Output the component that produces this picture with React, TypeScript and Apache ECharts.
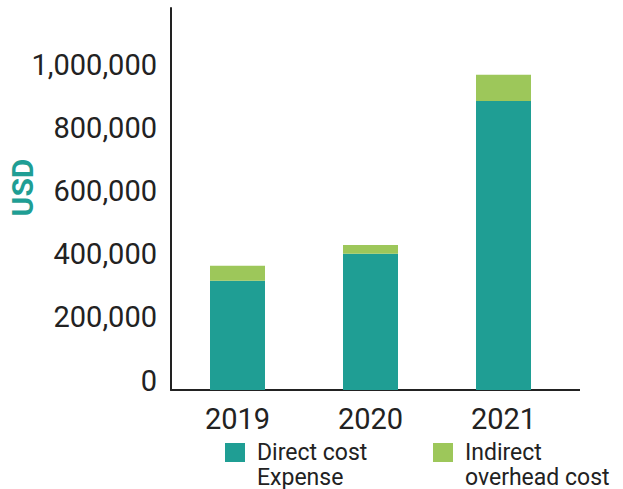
import React, { useEffect, useRef } from "react";
import * as echarts from "echarts";

const categories = ["2019", "2020", "2021"];
const directCost = [347000, 432000, 917000];
const indirectCost = [47000, 28000, 83000];
const seriesNames = ["Direct cost\nExpense", "Indirect\noverhead cost"];
const yAxisTitle = "USD";

const TEAL = "#1f9e94";
const GREEN = "#9dc75a";
const FONT = "Roboto";

export default function App() {
  const ref = useRef<HTMLDivElement>(null);
  useEffect(() => {
    if (!ref.current) return;
    const chart = echarts.init(ref.current, undefined, { renderer: "svg" });
    chart.setOption({
      animation: false,
      textStyle: { fontFamily: FONT },
      grid: {
        left: 171,
        right: 53,
        top: 8,
        bottom: 99,
        containLabel: false,
        outerBoundsMode: "none",
      },
      legend: {
        left: 225,
        top: 415,
        padding: 0,
        itemWidth: 20,
        itemHeight: 19,
        itemGap: 36,
        icon: "rect",
        data: seriesNames,
        formatter: (name: string) => "\n" + name,
        textStyle: {
          fontFamily: FONT,
          fontSize: 23,
          color: "#222",
          lineHeight: 25,
          padding: [0, 0, 0, 7],
          width: 140,
        },
      },
      xAxis: {
        type: "category",
        data: categories,
        axisLine: { lineStyle: { color: "#222", width: 2 } },
        axisTick: { show: false },
        axisLabel: { fontSize: 29, color: "#222", margin: 14, fontFamily: FONT },
      },
      yAxis: {
        type: "value",
        min: 0,
        max: 1212000,
        interval: 200000,
        name: yAxisTitle,
        nameLocation: "middle",
        nameRotate: 90,
        nameGap: 134,
        nameMoveOverlap: false,
        nameTextStyle: {
          color: TEAL,
          fontWeight: "bold",
          fontSize: 30,
          fontFamily: FONT,
          padding: [0, 0, 0, 23],
        },
        splitLine: { show: false },
        axisTick: { show: false },
        axisLine: { show: true, lineStyle: { color: "#222", width: 2 } },
        axisLabel: {
          fontSize: 29,
          color: "#222",
          margin: 14,
          fontFamily: FONT,
          verticalAlign: "bottom",
          lineHeight: 19,
          showMaxLabel: false,
          formatter: (v: number) => (v > 1000000 ? "" : v.toLocaleString("en-US")),
        },
      },
      graphic: [
        {
          type: "line",
          shape: { x1: 569, y1: 390, x2: 580, y2: 390 },
          style: { stroke: "#222", lineWidth: 2 },
        },
      ],
      series: [
        {
          name: seriesNames[0],
          type: "bar",
          stack: "total",
          data: directCost,
          barWidth: 55,
          itemStyle: { color: TEAL },
        },
        {
          name: seriesNames[1],
          type: "bar",
          stack: "total",
          data: indirectCost,
          barWidth: 55,
          itemStyle: { color: GREEN },
        },
      ],
    });
    return () => chart.dispose();
  }, []);
  return <div ref={ref} style={{ width: 623, height: 489, position: "absolute", left: 0, top: 0 }} />;
}
